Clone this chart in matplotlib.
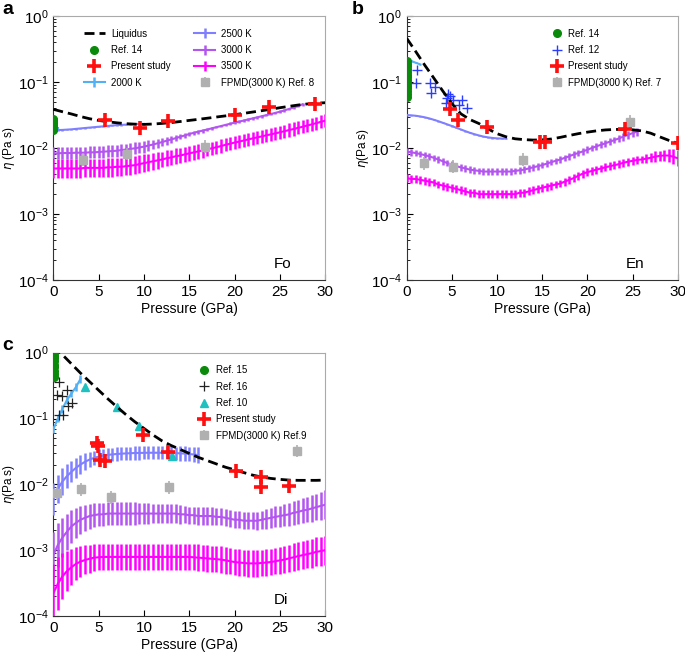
import numpy as np
import matplotlib.pyplot as plt

plt.rcParams['font.family'] = ['Liberation Sans', 'DejaVu Sans']
plt.rcParams['font.size'] = 10

# ---------------- panel a : Fo ----------------
a_liq = [0.0386, 0.0355, 0.0328, 0.0300, 0.0278, 0.0262, 0.0250, 0.0241, 0.0234, 0.0230,
         0.0228, 0.0231, 0.0236, 0.0243, 0.0252, 0.0262, 0.0272, 0.0283, 0.0295, 0.0307,
         0.0320, 0.0335, 0.0351, 0.0368, 0.0387, 0.0408, 0.0428, 0.0448, 0.0465, 0.0477,
         0.0486]
a_ref14 = [0.0185, 0.0195, 0.0205, 0.0215, 0.0225, 0.0235, 0.0250, 0.0265, 0.0280]
a_present_p = [5.74, 9.57, 12.7, 20.06, 23.85, 28.9]
a_present_v = [0.0266, 0.0203, 0.0254, 0.0316, 0.0423, 0.0464]
a_fpmd_p = [3.3, 8.1, 16.75]
a_fpmd_v = [0.0066, 0.0081, 0.0105]
a_2000 = [0.0200, 0.0200]
a_2000_err = [0.0, 0.0]
a_2500 = [0.0187, 0.0187, 0.0188, 0.0190, 0.0192, 0.0195, 0.0198, 0.0201, 0.0204, 0.0207,
          0.0210, 0.0213, 0.0216, 0.0219, 0.0222, 0.0224, 0.0226, 0.0228, 0.0230, 0.0231,
          0.0232]
a_2500_err = [0.01, 0.01, 0.01, 0.01, 0.01, 0.01, 0.01, 0.01, 0.01, 0.01,
              0.01, 0.01, 0.01, 0.01, 0.01, 0.01, 0.01, 0.01, 0.01, 0.01, 0.01]
a_3000 = [0.0083, 0.0083, 0.0084, 0.0084, 0.0084, 0.0085, 0.0085, 0.0085, 0.0086, 0.0086,
          0.0087, 0.0088, 0.0089, 0.0090, 0.0091, 0.0093, 0.0095, 0.0097, 0.0099, 0.0102,
          0.0105, 0.0109, 0.0113, 0.0118, 0.0123, 0.0129, 0.0135, 0.0141, 0.0148, 0.0155,
          0.0163, 0.0170, 0.0177, 0.0184, 0.0191, 0.0199, 0.0207, 0.0215, 0.0224, 0.0233,
          0.0242, 0.0251, 0.0261, 0.0271, 0.0281, 0.0292, 0.0303, 0.0315, 0.0327, 0.0341,
          0.0355, 0.0372, 0.0390, 0.0410, 0.0433, 0.0460]
a_3000_err = [0.09, 0.09, 0.09, 0.09, 0.09, 0.09, 0.09, 0.09, 0.09, 0.09,
              0.09, 0.09, 0.09, 0.09, 0.09, 0.09, 0.09, 0.09, 0.09, 0.09,
              0.09, 0.08, 0.07, 0.07, 0.06, 0.06, 0.05, 0.05, 0.04, 0.04,
              0.03, 0.03, 0.03, 0.03, 0.02, 0.02, 0.02, 0.02, 0.02, 0.02,
              0.02, 0.02, 0.02, 0.02, 0.02, 0.02, 0.02, 0.02, 0.02, 0.02,
              0.02, 0.02, 0.02, 0.02, 0.02, 0.02]
a_3500 = [0.0049, 0.0049, 0.0049, 0.0049, 0.0049, 0.0049, 0.0049, 0.0050, 0.0050, 0.0050,
          0.0050, 0.0050, 0.0051, 0.0051, 0.0052, 0.0052, 0.0053, 0.0054, 0.0055, 0.0057,
          0.0059, 0.0061, 0.0063, 0.0065, 0.0067, 0.0070, 0.0072, 0.0075, 0.0077, 0.0080,
          0.0083, 0.0086, 0.0089, 0.0092, 0.0096, 0.0099, 0.0103, 0.0107, 0.0112, 0.0116,
          0.0121, 0.0125, 0.0130, 0.0135, 0.0140, 0.0145, 0.0150, 0.0156, 0.0161, 0.0167,
          0.0173, 0.0180, 0.0187, 0.0194, 0.0202, 0.0210, 0.0219, 0.0228, 0.0238, 0.0249,
          0.0260]
a_3500_err = [0.14, 0.14, 0.14, 0.14, 0.14, 0.14, 0.14, 0.14, 0.14, 0.14,
              0.14, 0.14, 0.14, 0.14, 0.14, 0.14, 0.14, 0.14, 0.14, 0.14,
              0.14, 0.13, 0.13, 0.13, 0.12, 0.12, 0.12, 0.12, 0.11, 0.11,
              0.11, 0.11, 0.11, 0.11, 0.10, 0.10, 0.10, 0.10, 0.10, 0.10,
              0.10, 0.10, 0.10, 0.10, 0.10, 0.10, 0.10, 0.10, 0.10, 0.10,
              0.10, 0.10, 0.10, 0.10, 0.10, 0.10, 0.10, 0.10, 0.10, 0.10,
              0.10]

# ---------------- panel b : En ----------------
b_liq = [0.46, 0.29, 0.18, 0.115, 0.073, 0.047, 0.033, 0.027, 0.0235, 0.0195,
         0.0165, 0.0148, 0.0138, 0.0134, 0.0132, 0.0133, 0.0137, 0.0145, 0.0155, 0.0165,
         0.0174, 0.0182, 0.0188, 0.0191, 0.0192, 0.0189, 0.0182, 0.0168, 0.0148, 0.0131,
         0.0118]
b_ref14 = [0.060, 0.065, 0.072, 0.080, 0.088, 0.097, 0.107, 0.118, 0.130, 0.143,
           0.157, 0.172, 0.190, 0.205]
b_ref12_p = [1.17, 1.03, 2.58, 2.66, 3.13, 4.6, 4.43, 4.8, 5.16, 6.09, 5.83, 6.64, 4.3]
b_ref12_v = [0.152, 0.0955, 0.0955, 0.0689, 0.085, 0.0658, 0.0566, 0.0614, 0.0533,
             0.0533, 0.0449, 0.0399, 0.048]
b_present_p = [4.8, 5.7, 8.86, 14.76, 15.3, 24.17, 30.0]
b_present_v = [0.0385, 0.0266, 0.0206, 0.0125, 0.0125, 0.0192, 0.0118]
b_fpmd_p = [1.92, 5.17, 12.84, 24.72]
b_fpmd_v = [0.00586, 0.0052, 0.0067, 0.025]
b_2000 = [0.221, 0.208, 0.196, 0.185]
b_2000_err = [0.01, 0.01, 0.01, 0.01]
b_2500 = [0.0316, 0.0313, 0.0308, 0.0301, 0.0292, 0.0281, 0.0268, 0.0255, 0.0241, 0.0228,
          0.0215, 0.0203, 0.0191, 0.0180, 0.0170, 0.0162, 0.0155, 0.0149, 0.0145, 0.0142,
          0.0140, 0.0139, 0.0139]
b_2500_err = [0.01, 0.01, 0.01, 0.01, 0.01, 0.01, 0.01, 0.01, 0.01, 0.01,
              0.01, 0.01, 0.01, 0.01, 0.01, 0.01, 0.01, 0.01, 0.01, 0.01,
              0.01, 0.01, 0.01]
b_3000 = [0.0088, 0.0086, 0.0084, 0.0081, 0.0078, 0.0075, 0.0071, 0.0067, 0.0063, 0.0059,
          0.0056, 0.0053, 0.0051, 0.0049, 0.0047, 0.0046, 0.0045, 0.0044, 0.0044, 0.0044,
          0.0044, 0.0044, 0.0044, 0.0044, 0.0045, 0.0046, 0.0047, 0.0049, 0.0051, 0.0053,
          0.0055, 0.0058, 0.0061, 0.0064, 0.0067, 0.0071, 0.0075, 0.0080, 0.0084, 0.0089,
          0.0094, 0.0100, 0.0106, 0.0112, 0.0118, 0.0125, 0.0132, 0.0140, 0.0149, 0.0158,
          0.0168, 0.0177]
b_3000_err = [0.05, 0.05, 0.05, 0.05, 0.05, 0.05, 0.05, 0.05, 0.05, 0.05,
              0.05, 0.05, 0.05, 0.05, 0.05, 0.05, 0.05, 0.05, 0.05, 0.05,
              0.05, 0.05, 0.05, 0.05, 0.05, 0.05, 0.05, 0.05, 0.05, 0.05,
              0.05, 0.05, 0.05, 0.05, 0.05, 0.05, 0.05, 0.05, 0.05, 0.05,
              0.05, 0.05, 0.05, 0.05, 0.05, 0.05, 0.05, 0.05, 0.06, 0.06,
              0.06, 0.06]
b_3500 = [0.0035, 0.0034, 0.0034, 0.0033, 0.0032, 0.0031, 0.0030, 0.0028, 0.0027, 0.0026,
          0.0025, 0.0024, 0.0023, 0.0022, 0.0021, 0.0021, 0.0020, 0.0020, 0.0020, 0.0020,
          0.0020, 0.0020, 0.0020, 0.0020, 0.0020, 0.0021, 0.0021, 0.0022, 0.0023, 0.0024,
          0.0025, 0.0026, 0.0027, 0.0028, 0.0029, 0.0031, 0.0033, 0.0035, 0.0038, 0.0041,
          0.0043, 0.0045, 0.0047, 0.0049, 0.0051, 0.0053, 0.0055, 0.0057, 0.0060, 0.0062,
          0.0064, 0.0066, 0.0067, 0.0069, 0.0071, 0.0074, 0.0076, 0.0077, 0.0077, 0.0074,
          0.0070]
b_3500_err = [0.06, 0.06, 0.06, 0.06, 0.06, 0.06, 0.06, 0.06, 0.06, 0.06,
              0.06, 0.06, 0.06, 0.06, 0.06, 0.06, 0.06, 0.06, 0.06, 0.06,
              0.06, 0.06, 0.06, 0.06, 0.06, 0.06, 0.06, 0.06, 0.06, 0.06,
              0.06, 0.06, 0.06, 0.06, 0.06, 0.06, 0.06, 0.06, 0.06, 0.06,
              0.06, 0.06, 0.06, 0.06, 0.06, 0.06, 0.06, 0.06, 0.06, 0.06,
              0.06, 0.06, 0.06, 0.07, 0.07, 0.08, 0.08, 0.09, 0.10, 0.11,
              0.12]

# ---------------- panel c : Di ----------------
c_liq = [1.26, 0.933, 0.676, 0.490, 0.363, 0.269, 0.200, 0.151, 0.115, 0.0891,
         0.0708, 0.0562, 0.0457, 0.0389, 0.0339, 0.0295, 0.0257, 0.0229, 0.0204, 0.0182,
         0.0166, 0.0151, 0.0138, 0.0129, 0.0123, 0.0119, 0.0116, 0.0115, 0.0115, 0.0115,
         0.0116]
c_ref15 = [0.43, 0.48, 0.53, 0.60, 0.66, 0.74, 0.82, 0.90, 0.98]
c_ref16_p = [0.63, 0.44, 0.99, 1.55, 0.66, 1.03, 1.58, 2.02]
c_ref16_v = [0.358, 0.23, 0.22, 0.271, 0.113, 0.113, 0.155, 0.17]
c_ref10_p = [3.5, 7.0, 9.5, 13.14]
c_ref10_v = [0.305, 0.148, 0.0769, 0.0272]
c_present_p = [4.79, 4.97, 5.15, 5.7, 9.94, 12.7, 20.2, 22.9, 22.9, 26.0]
c_present_v = [0.042, 0.0382, 0.0234, 0.0229, 0.0562, 0.0313, 0.0162, 0.0131, 0.0092, 0.0095]
c_fpmd_p = [0.37, 3.06, 6.33, 12.77, 26.9]
c_fpmd_v = [0.0073, 0.0084, 0.00635, 0.009, 0.032]
c_2000 = [0.068, 0.100, 0.140, 0.190, 0.240, 0.300, 0.400]
c_2000_err = [0.06, 0.06, 0.06, 0.06, 0.06, 0.06, 0.06]
c_2500 = [0.0060, 0.0085, 0.0110, 0.0133, 0.0155, 0.0178, 0.0200, 0.0220, 0.0238, 0.0252,
          0.0264, 0.0273, 0.0280, 0.0285, 0.0289, 0.0292, 0.0295, 0.0297, 0.0299, 0.0300,
          0.0301, 0.0302, 0.0302, 0.0302, 0.0302, 0.0301, 0.0300, 0.0298, 0.0296, 0.0293,
          0.0289, 0.0284, 0.0279]
c_2500_err = [0.24, 0.22, 0.20, 0.18, 0.16, 0.15, 0.14, 0.13, 0.12, 0.11,
              0.11, 0.10, 0.10, 0.10, 0.10, 0.10, 0.10, 0.10, 0.10, 0.10,
              0.10, 0.10, 0.10, 0.10, 0.10, 0.10, 0.10, 0.10, 0.11, 0.11,
              0.11, 0.12, 0.12]
c_3000 = [0.00084, 0.0012, 0.00155, 0.0019, 0.0023, 0.0026, 0.0029, 0.0031, 0.0033, 0.0034,
          0.0035, 0.0035, 0.0036, 0.0036, 0.0036, 0.0036, 0.0036, 0.0036, 0.0036, 0.0036,
          0.0036, 0.0036, 0.0036, 0.0036, 0.0036, 0.0036, 0.0036, 0.0036, 0.0035, 0.0035,
          0.0034, 0.0034, 0.0033, 0.0033, 0.0033, 0.0033, 0.0032, 0.0032, 0.0031, 0.0030,
          0.0029, 0.0029, 0.0028, 0.0028, 0.0028, 0.0028, 0.0029, 0.0030, 0.0031, 0.0032,
          0.0033, 0.0034, 0.0035, 0.0037, 0.0038, 0.0040, 0.0041, 0.0043, 0.0045, 0.0047,
          0.0049]
c_3000_err = [0.35, 0.33, 0.30, 0.27, 0.25, 0.23, 0.21, 0.20, 0.19, 0.18,
              0.18, 0.18, 0.18, 0.18, 0.18, 0.18, 0.17, 0.17, 0.17, 0.16,
              0.16, 0.16, 0.15, 0.15, 0.15, 0.14, 0.14, 0.14, 0.14, 0.13,
              0.13, 0.13, 0.13, 0.13, 0.13, 0.13, 0.13, 0.13, 0.13, 0.13,
              0.13, 0.13, 0.13, 0.13, 0.13, 0.14, 0.14, 0.15, 0.15, 0.16,
              0.16, 0.17, 0.17, 0.18, 0.18, 0.19, 0.19, 0.20, 0.20, 0.21,
              0.22]
c_3500 = [0.00022, 0.00031, 0.00040, 0.00048, 0.00055, 0.00062, 0.00067, 0.00071, 0.00074, 0.00077,
          0.00078, 0.00079, 0.00079, 0.00079, 0.00079, 0.00079, 0.00079, 0.00079, 0.00079, 0.00079,
          0.00079, 0.00079, 0.00079, 0.00079, 0.00079, 0.00079, 0.00079, 0.00079, 0.00079, 0.00079,
          0.00079, 0.00078, 0.00077, 0.00076, 0.00075, 0.00074, 0.00073, 0.00072, 0.00070, 0.00068,
          0.00066, 0.00065, 0.00064, 0.00063, 0.00063, 0.00063, 0.00064, 0.00065, 0.00066, 0.00068,
          0.00070, 0.00072, 0.00075, 0.00078, 0.00081, 0.00084, 0.00087, 0.00090, 0.00094, 0.00097,
          0.00100]
c_3500_err = [0.45, 0.40, 0.35, 0.30, 0.27, 0.25, 0.23, 0.22, 0.21, 0.20,
              0.20, 0.20, 0.20, 0.20, 0.20, 0.20, 0.20, 0.20, 0.20, 0.20,
              0.20, 0.20, 0.20, 0.20, 0.20, 0.20, 0.20, 0.20, 0.20, 0.20,
              0.20, 0.20, 0.20, 0.20, 0.20, 0.20, 0.20, 0.20, 0.20, 0.20,
              0.20, 0.20, 0.20, 0.20, 0.20, 0.20, 0.20, 0.20, 0.20, 0.20,
              0.20, 0.20, 0.21, 0.21, 0.21, 0.21, 0.21, 0.22, 0.22, 0.22,
              0.22]

C2000 = '#52b0f5'
C2500 = '#8080ff'
C3000 = '#b455f0'
C3500 = '#ff00ff'
CGRAY = '#b0b0b0'


def kline(ax, vals, errs, color, label, z=3):
    v = np.array(vals)
    e = np.array(errs)
    p = np.arange(len(v)) * 0.5
    lo = v - v * 10 ** (-e)
    hi = v * 10 ** e - v
    return ax.errorbar(p, v, yerr=[lo, hi], color=color, lw=1.5, elinewidth=1.8,
                       capsize=0, label=label, zorder=z)


def liquidus(ax, vals):
    p = np.arange(len(vals)) * 1.0
    return ax.plot(p, vals, color='black', lw=2, ls=(0, (3.6, 1.8)),
                   label='Liquidus', zorder=6)[0]


def present(ax, p, v):
    return ax.plot(p, v, ls='none', marker='+', ms=10, mew=2.6, color='#ff1010',
                   label='Present study', zorder=8)[0]


def fpmd(ax, p, v, label):
    v = np.array(v)
    return ax.errorbar(p, v, yerr=[v * 0.2, v * 0.25], ls='none', marker='s', ms=6,
                       color=CGRAY, mec=CGRAY, elinewidth=1.2, capsize=0,
                       label=label, zorder=7)


def style(ax, ylab, name):
    ax.set_yscale('log')
    ax.set_xlim(0, 30)
    ax.set_ylim(1e-4, 1)
    ax.set_xticks([0, 5, 10, 15, 20, 25, 30])
    ax.set_xlabel('Pressure (GPa)', fontsize=10, labelpad=2)
    ax.set_ylabel(ylab, fontsize=8.5)
    ax.yaxis.set_label_coords(-0.133, 0.5)
    ax.tick_params(direction='in', which='both', labelsize=11)
    ax.tick_params(which='major', length=4)
    ax.tick_params(which='minor', length=2)
    for s in ['top', 'right']:
        ax.spines[s].set_color('#aaaaaa')
    for s in ['left', 'bottom']:
        ax.spines[s].set_color('#333333')
    ax.text(24.3, 10 ** -3.76, name, fontsize=11, va='center')


fig = plt.figure(figsize=(6.85, 6.57), dpi=100)
ax_a = fig.add_axes([0.0778, 0.5738, 0.397, 0.4018])
ax_b = fig.add_axes([0.5937, 0.5738, 0.3956, 0.4018])
ax_c = fig.add_axes([0.0778, 0.0624, 0.397, 0.4008])

# panel a
h_liq = liquidus(ax_a, a_liq)
h_14 = ax_a.plot([0] * len(a_ref14), a_ref14, ls='none', marker='o', ms=5.5,
                 color='#0a8a0a', label='Ref. 14', zorder=5)[0]
h_pr = present(ax_a, a_present_p, a_present_v)
h_20 = kline(ax_a, a_2000, a_2000_err, C2000, '2000 K')
h_25 = kline(ax_a, a_2500, a_2500_err, C2500, '2500 K')
h_30 = kline(ax_a, a_3000, a_3000_err, C3000, '3000 K')
h_35 = kline(ax_a, a_3500, a_3500_err, C3500, '3500 K')
h_fp = fpmd(ax_a, a_fpmd_p, a_fpmd_v, 'FPMD(3000 K) Ref. 8')
style(ax_a, r'$\eta$ (Pa s)', 'Fo')
hs = [h_liq, h_14, h_pr, h_20, h_25, h_30, h_35, h_fp]
ax_a.legend(hs, [h.get_label() for h in hs],
            ncol=2, frameon=False, fontsize=7, loc='upper left',
            bbox_to_anchor=(0.08, 0.985), handlelength=2.2, handletextpad=0.6,
            labelspacing=0.65, columnspacing=2.4)

# panel b
liquidus(ax_b, b_liq)
kline(ax_b, b_2000, b_2000_err, C2000, '2000 K')
kline(ax_b, b_2500, b_2500_err, C2500, '2500 K')
kline(ax_b, b_3000, b_3000_err, C3000, '3000 K')
kline(ax_b, b_3500, b_3500_err, C3500, '3500 K')
hb_14 = ax_b.plot([0] * len(b_ref14), b_ref14, ls='none', marker='o', ms=5.5,
                  color='#0a8a0a', label='Ref. 14', zorder=5)[0]
hb_12 = ax_b.plot(b_ref12_p, b_ref12_v, ls='none', marker='+', ms=7, mew=1,
                  color='#2a3cff', label='Ref. 12', zorder=5)[0]
hb_pr = present(ax_b, b_present_p, b_present_v)
hb_fp = fpmd(ax_b, b_fpmd_p, b_fpmd_v, 'FPMD(3000 K) Ref. 7')
style(ax_b, r'$\eta$(Pa s)', 'En')
ax_b.legend([hb_14, hb_12, hb_pr, hb_fp],
            ['Ref. 14', 'Ref. 12', 'Present study', 'FPMD(3000 K) Ref. 7'],
            frameon=False, fontsize=7, loc='upper left', bbox_to_anchor=(0.5, 0.985),
            handlelength=1.2, handletextpad=0.6, labelspacing=0.65)

# panel c
liquidus(ax_c, c_liq)
kline(ax_c, c_2000, c_2000_err, C2000, '2000 K')
kline(ax_c, c_2500, c_2500_err, C2500, '2500 K')
kline(ax_c, c_3000, c_3000_err, C3000, '3000 K')
kline(ax_c, c_3500, c_3500_err, C3500, '3500 K')
hc_15 = ax_c.plot([0.1] * len(c_ref15), c_ref15, ls='none', marker='o', ms=5.5,
                  color='#0a8a0a', label='Ref. 15', zorder=5)[0]
hc_16 = ax_c.plot(c_ref16_p, c_ref16_v, ls='none', marker='+', ms=6.5, mew=0.9,
                  color='#222222', label='Ref. 16', zorder=5)[0]
hc_10 = ax_c.plot(c_ref10_p, c_ref10_v, ls='none', marker='^', ms=6,
                  color='#1fc0c0', label='Ref. 10', zorder=5)[0]
hc_pr = present(ax_c, c_present_p, c_present_v)
hc_fp = fpmd(ax_c, c_fpmd_p, c_fpmd_v, 'FPMD(3000 K) Ref.9')
style(ax_c, r'$\eta$(Pa s)', 'Di')
ax_c.legend([hc_15, hc_16, hc_10, hc_pr, hc_fp],
            ['Ref. 15', 'Ref. 16', 'Ref. 10', 'Present study', 'FPMD(3000 K) Ref.9'],
            frameon=False, fontsize=7, loc='upper left', bbox_to_anchor=(0.5, 0.985),
            handlelength=1.2, handletextpad=0.6, labelspacing=0.65)

fig.text(0.003, 0.998, 'a', fontsize=14, fontweight='bold', va='top')
fig.text(0.513, 0.998, 'b', fontsize=14, fontweight='bold', va='top')
fig.text(0.003, 0.487, 'c', fontsize=14, fontweight='bold', va='top')

fig.savefig('out.png', dpi=100)
